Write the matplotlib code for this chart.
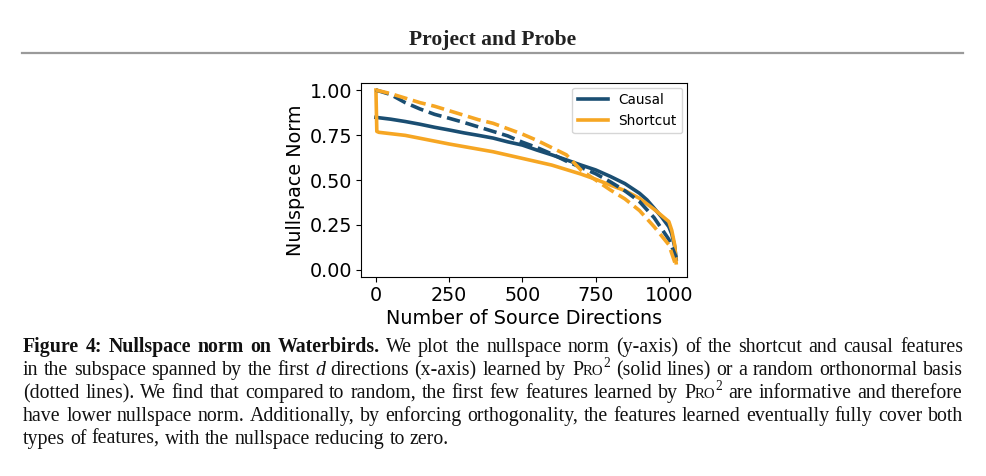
import matplotlib
matplotlib.use("Agg")
import matplotlib.pyplot as plt

# ---------------- data ----------------
causal_x = [0, 50, 100, 150, 200, 250, 300, 350, 400, 450, 500, 550, 600, 650, 700, 750,
            800, 850, 900, 925, 950, 975, 1000, 1010, 1020, 1025]
causal_y = [0.848, 0.838, 0.825, 0.810, 0.793, 0.778, 0.762, 0.748, 0.733, 0.712, 0.694,
            0.666, 0.640, 0.612, 0.583, 0.556, 0.520, 0.480, 0.426, 0.390, 0.343, 0.295,
            0.240, 0.200, 0.130, 0.060]

shortcut_x = [0, 3, 10, 100, 250, 400, 500, 600, 700, 750, 800, 850, 900, 950, 1000,
              1010, 1020, 1025]
shortcut_y = [1.0, 0.770, 0.765, 0.748, 0.700, 0.657, 0.620, 0.583, 0.533, 0.504, 0.472,
              0.441, 0.398, 0.337, 0.269, 0.220, 0.140, 0.040]

causal_rand_x = [0, 50, 100, 150, 200, 250, 300, 350, 400, 450, 500, 550, 600, 650, 700,
                 750, 800, 850, 900, 950, 1000, 1025]
causal_rand_y = [1.0, 0.975, 0.930, 0.895, 0.865, 0.843, 0.820, 0.795, 0.770, 0.745, 0.710,
                 0.680, 0.645, 0.605, 0.570, 0.535, 0.490, 0.440, 0.380, 0.290, 0.170, 0.070]

shortcut_rand_x = [0, 50, 100, 150, 200, 250, 300, 350, 400, 450, 500, 550, 600, 650, 700,
                   750, 800, 850, 900, 950, 1000, 1025]
shortcut_rand_y = [1.0, 0.980, 0.955, 0.930, 0.910, 0.885, 0.860, 0.835, 0.815, 0.785, 0.755,
                   0.720, 0.680, 0.640, 0.555, 0.500, 0.445, 0.395, 0.330, 0.240, 0.140, 0.020]

series_labels = ["Causal", "Shortcut"]
x_label = "Number of Source Directions"
y_label = "Nullspace Norm"
x_ticks = [0, 250, 500, 750, 1000]
y_ticks = [0.00, 0.25, 0.50, 0.75, 1.00]
header_text = "Project and Probe"

# ---------------- figure ----------------
W, H = 986, 476
fig = plt.figure(figsize=(W / 100, H / 100), dpi=100)

BLUE = "#1a4e72"
ORANGE = "#f6a623"

ax = fig.add_axes([361 / W, 1 - 277 / H, 326 / W, 194 / H])
lw = 2.6
ax.plot(causal_x, causal_y, color=BLUE, lw=lw, label=series_labels[0])
ax.plot(shortcut_x, shortcut_y, color=ORANGE, lw=lw, label=series_labels[1])
ax.plot(causal_rand_x, causal_rand_y, color=BLUE, lw=lw, ls="--")
ax.plot(shortcut_rand_x, shortcut_rand_y, color=ORANGE, lw=lw, ls="--")
ax.set_xlim(-51, 1062)
ax.set_ylim(-0.039, 1.039)
ax.set_xticks(x_ticks)
ax.set_yticks(y_ticks)
ax.set_yticklabels([f"{v:.2f}" for v in y_ticks])
ax.tick_params(labelsize=13.8, pad=3)
ax.set_xlabel(x_label, fontsize=13.8, labelpad=3)
ax.set_ylabel(y_label, fontsize=13.8, labelpad=3)
ax.legend(loc="upper right", fontsize=9.8, borderaxespad=0.35, handlelength=2.2)

# ---------------- header ----------------
def fx(px):
    return px / W

def fy(py):
    return 1 - py / H

SERIF = ["Liberation Serif", "DejaVu Serif"]
fig.text(fx(493), fy(45), header_text, ha="center", va="baseline",
         fontsize=15.5, fontweight="bold", family=SERIF, color="#222222")
fig.add_artist(plt.Line2D([fx(22), fx(963)], [fy(53), fy(53)], transform=fig.transFigure,
                          color="#9a9a9a", lw=1.6))

# ---------------- caption (justified, rich text) ----------------
FS = 14.3
renderer = fig.canvas.get_renderer()

def R(t, scale=1.0, weight="normal", style="normal", rise=0.0):
    return dict(t=t, scale=scale, weight=weight, style=style, rise=rise)

def PRO2():
    return [R("P"), R("RO", scale=0.74), R("2", scale=0.68, rise=0.42)]

def words(s, **kw):
    return [[R(w, **kw)] for w in s.split()]

def run_width(r):
    t = fig.text(0, 0, r["t"], fontsize=FS * r["scale"], fontweight=r["weight"],
                 fontstyle=r["style"], family=SERIF)
    w = t.get_window_extent(renderer).width
    t.remove()
    return w

space_w = run_width(R("a a")) - run_width(R("aa"))

def draw_line(ws, x0, x1, base, justify=True):
    widths = [sum(run_width(r) for r in w) for w in ws]
    total = sum(widths)
    gap = (x1 - x0 - total) / (len(ws) - 1) if justify else space_w
    x = x0
    for w, wd in zip(ws, widths):
        xx = x
        for r in w:
            fig.text(fx(xx), fy(base - r["rise"] * FS * 100 / 72), r["t"],
                     fontsize=FS * r["scale"], fontweight=r["weight"],
                     fontstyle=r["style"], family=SERIF, va="baseline", ha="left",
                     color="#111111")
            xx += run_width(r)
        x += wd + gap

line1 = (words("Figure 4: Nullspace norm on Waterbirds.", weight="bold")
         + words("We plot the nullspace norm (y-axis) of the shortcut and causal features"))
line2 = (words("in the subspace spanned by the first") + [[R("d", style="italic")]]
         + words("directions (x-axis) learned by") + [PRO2()]
         + words("(solid lines) or a random orthonormal basis"))
line3 = (words("(dotted lines). We find that compared to random, the first few features learned by")
         + [PRO2()] + words("are informative and therefore"))
line4 = words("have lower nullspace norm. Additionally, by enforcing orthogonality, the features learned eventually fully cover both")
line5 = words("types of features, with the nullspace reducing to zero.")

X0, X1 = 23, 963
draw_line(line1, X0, X1, 352)
draw_line(line2, X0, X1, 375)
draw_line(line3, X0, X1, 398)
draw_line(line4, X0, X1, 421)
draw_line(line5, X0, X1, 444, justify=False)

fig.savefig("out.png", dpi=100)
